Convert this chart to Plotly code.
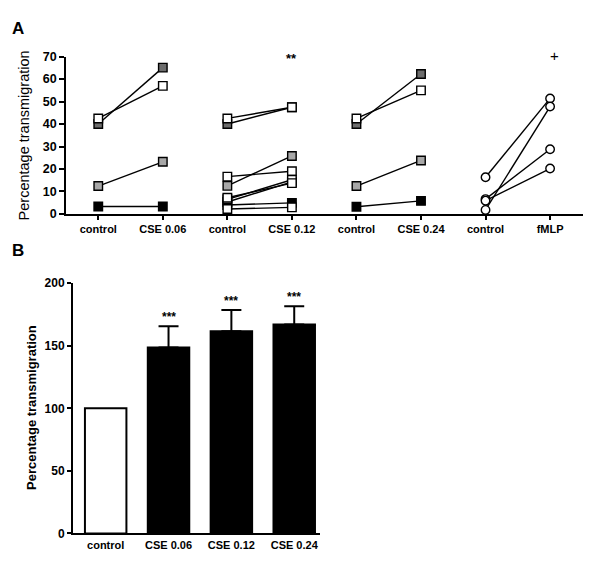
import plotly.graph_objects as go

# ---------------- Data: panel A ----------------
a_tick_labels = ["control", "CSE 0.06", "control", "CSE 0.12",
                 "control", "CSE 0.24", "control", "fMLP"]

cse006_control = [40.0, 42.5, 12.4, 3.3]
cse006_treated = [65.1, 57.0, 23.2, 3.3]
cse006_colors = ["#6d6d6d", "white", "#a8a8a8", "black"]

cse012_control = [5.3, 4.0, 40.0, 42.5, 16.6, 12.5, 6.5, 7.2, 2.2]
cse012_treated = [14.3, 4.9, 47.5, 47.5, 19.0, 25.8, 15.2, 13.7, 2.9]
cse012_colors = ["black", "black", "#6d6d6d", "white", "white", "#a8a8a8",
                 "white", "white", "white"]

cse024_control = [40.0, 42.5, 12.4, 3.2]
cse024_treated = [62.3, 55.0, 23.8, 5.8]
cse024_colors = ["#6d6d6d", "white", "#a8a8a8", "black"]

fmlp_control = [16.3, 1.8, 6.6, 5.9]
fmlp_treated = [51.4, 47.8, 28.8, 20.2]

a_y_ticks = [0, 10, 20, 30, 40, 50, 60, 70]

# ---------------- Data: panel B ----------------
b_labels = ["control", "CSE 0.06", "CSE 0.12", "CSE 0.24"]
b_means = [100, 148.5, 161.5, 167.0]
b_sem = [0, 17.0, 17.0, 14.5]
b_stars = ["", "***", "***", "***"]
b_y_ticks = [0, 50, 100, 150, 200]

FONT = "Liberation Sans, Arial, sans-serif"
W, H = 600, 563

fig = go.Figure()

def add_pairs(xc, xt, ctrl, trt, colors, symbol):
    for c, t, col in zip(ctrl, trt, colors):
        fig.add_trace(go.Scatter(
            x=[xc, xt], y=[c, t], mode="lines+markers",
            line=dict(color="black", width=1.4),
            marker=dict(symbol=symbol, size=8.5, color=col,
                        line=dict(color="black", width=1.4)),
            cliponaxis=False, showlegend=False,
            xaxis="x", yaxis="y"))

add_pairs(0, 1, cse006_control, cse006_treated, cse006_colors, "square")
add_pairs(2, 3, cse012_control, cse012_treated, cse012_colors, "square")
add_pairs(4, 5, cse024_control, cse024_treated, cse024_colors, "square")
add_pairs(6, 7, fmlp_control, fmlp_treated, ["white"] * len(fmlp_control), "circle")

# Panel B bars
xb = list(range(len(b_labels)))
fig.add_trace(go.Bar(
    x=xb[:1], y=b_means[:1], width=0.66,
    marker=dict(color="white", line=dict(color="black", width=2)),
    showlegend=False, xaxis="x2", yaxis="y2"))
fig.add_trace(go.Bar(
    x=xb[1:], y=b_means[1:], width=0.66,
    marker=dict(color="black", line=dict(color="black", width=2)),
    error_y=dict(type="data", symmetric=False, array=b_sem[1:],
                 arrayminus=[0] * (len(xb) - 1),
                 color="black", thickness=2, width=10),
    showlegend=False, xaxis="x2", yaxis="y2"))

# domains (pixel -> paper)
ax_l, ax_r, ax_top, ax_bot = 58, 575, 42.7, 204
bx_l, bx_r, bx_top, bx_bot = 65, 312, 275, 531.7

fig.update_layout(
    width=W, height=H,
    margin=dict(l=0, r=0, t=0, b=0),
    paper_bgcolor="white", plot_bgcolor="white",
    barmode="overlay",
    xaxis=dict(domain=[ax_l / W, ax_r / W], range=[-0.5, 7.51],
               tickvals=list(range(len(a_tick_labels))), ticktext=a_tick_labels,
               showline=True, linecolor="black", linewidth=1.6,
               ticks="outside", ticklen=4, tickwidth=1.6, tickcolor="black",
               showgrid=False, zeroline=False,
               tickfont=dict(family=FONT, size=11, color="black", weight="bold"),
               anchor="y"),
    yaxis=dict(domain=[1 - ax_bot / H, 1 - ax_top / H], range=[0, 70],
               tickvals=a_y_ticks,
               showline=True, linecolor="black", linewidth=1.6,
               ticks="outside", ticklen=5, tickwidth=1.6, tickcolor="black",
               showgrid=False, zeroline=False,
               tickfont=dict(family=FONT, size=12.5, color="black", weight="bold"),
               anchor="x"),
    xaxis2=dict(domain=[bx_l / W, bx_r / W], range=[-0.52, 3.41],
                tickvals=xb, ticktext=b_labels,
                showline=True, linecolor="black", linewidth=2,
                ticks="", showgrid=False, zeroline=False,
                tickfont=dict(family=FONT, size=11, color="black", weight="bold"),
                anchor="y2"),
    yaxis2=dict(domain=[1 - bx_bot / H, 1 - bx_top / H], range=[0, 200],
                tickvals=b_y_ticks,
                showline=True, linecolor="black", linewidth=2,
                ticks="outside", ticklen=4, tickwidth=2, tickcolor="black",
                showgrid=False, zeroline=False,
                tickfont=dict(family=FONT, size=12, color="black", weight="bold"),
                anchor="x2"),
)

ann = []
# Panel letters
ann.append(dict(text="<b>A</b>", x=2 / W, y=1 - 14 / H, xref="paper", yref="paper",
                xanchor="left", yanchor="middle", showarrow=False,
                font=dict(family=FONT, size=17, color="black")))
ann.append(dict(text="<b>B</b>", x=2 / W, y=1 - 241 / H, xref="paper", yref="paper",
                xanchor="left", yanchor="middle", showarrow=False,
                font=dict(family=FONT, size=17, color="black")))
# Axis titles
ann.append(dict(text="Percentage transmigration", x=16 / W, y=1 - 123.5 / H,
                xref="paper", yref="paper", textangle=-90, showarrow=False,
                xanchor="center", yanchor="middle",
                font=dict(family=FONT, size=14.5, color="black")))
ann.append(dict(text="<b>Percentage transmigration</b>", x=24 / W, y=1 - 403 / H,
                xref="paper", yref="paper", textangle=-90, showarrow=False,
                xanchor="center", yanchor="middle",
                font=dict(family=FONT, size=13, color="black")))
# Significance marks panel A
ann.append(dict(text="<b>**</b>", x=3, y=70, xref="x", yref="y", showarrow=False,
                yanchor="middle", yshift=-2, font=dict(family=FONT, size=13, color="black")))
ann.append(dict(text="+", x=7.07, y=70, xref="x", yref="y", showarrow=False,
                yanchor="middle", yshift=1, font=dict(family=FONT, size=15, color="black")))
# Stars panel B
for xi, m, s, st in zip(xb, b_means, b_sem, b_stars):
    if st:
        ann.append(dict(text="<b>" + st + "</b>", x=xi, y=m + s, xref="x2", yref="y2",
                        showarrow=False, yanchor="bottom", yshift=0,
                        font=dict(family=FONT, size=12, color="black")))
fig.update_layout(annotations=ann)

fig.write_html("out.html")
